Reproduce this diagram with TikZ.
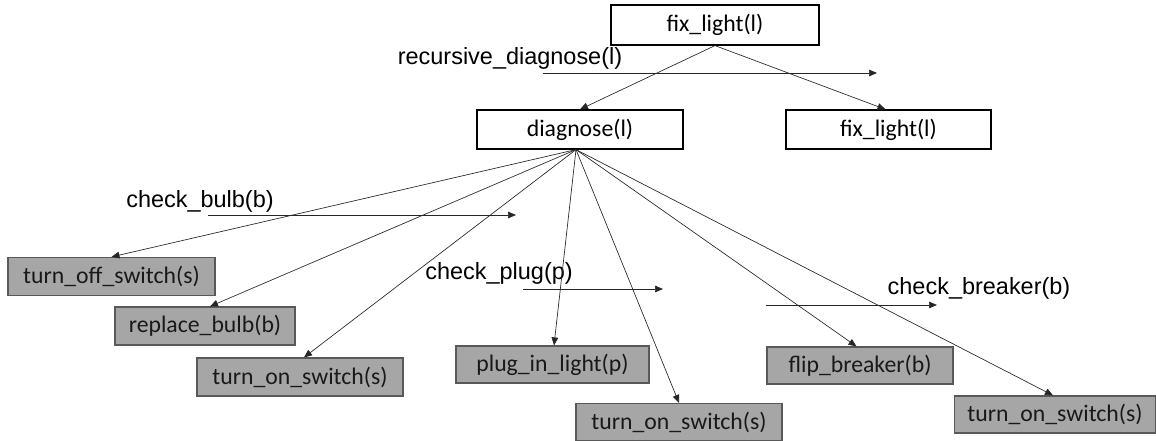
\documentclass[tikz,border=0pt]{standalone}
\usepackage{fontspec}
\setmainfont{Carlito}
\newfontfamily\lblfont{Liberation Sans}
\usetikzlibrary{arrows.meta}
\definecolor{boxgray}{HTML}{A6A6A6}
\definecolor{boxedge}{HTML}{595959}
\begin{document}
\begin{tikzpicture}[x=0.75pt,y=-0.75pt,
  wbox/.style={draw=black,fill=white,line width=0.9pt,inner sep=0pt,font=\fontsize{17.8pt}{20pt}\selectfont},
  gbox/.style={draw=boxedge,fill=boxgray,line width=0.9pt,inner sep=0pt,text=black!90,font=\fontsize{17.8pt}{20pt}\selectfont},
  lbl/.style={inner sep=0pt,font=\lblfont\fontsize{17.6pt}{20pt}\selectfont},
  conn/.style={draw=black!85,line width=0.5pt,-{Triangle[length=6pt,width=5pt]}}]
\useasboundingbox (0,0) rectangle (1156,441);
% nodes
\node[wbox,minimum width=208*0.75pt,minimum height=40*0.75pt] (top) at (715,25) {fix\_light(l)};
\node[wbox,minimum width=206*0.75pt,minimum height=39*0.75pt] (diag) at (580,129.5) {diagnose(l)};
\node[wbox,minimum width=205*0.75pt,minimum height=39*0.75pt] (fixr) at (888.5,129.5) {fix\_light(l)};
\node[gbox,minimum width=207*0.75pt,minimum height=38*0.75pt] (toff) at (111.5,276.5) {turn\_off\_switch(s)};
\node[gbox,minimum width=180*0.75pt,minimum height=38*0.75pt] (repl) at (205,326) {replace\_bulb(b)};
\node[gbox,minimum width=206*0.75pt,minimum height=38*0.75pt] (tona) at (300,377) {turn\_on\_switch(s)};
\node[gbox,minimum width=193*0.75pt,minimum height=37*0.75pt] (plug) at (552.5,364.5) {plug\_in\_light(p)};
\node[gbox,minimum width=206*0.75pt,minimum height=37*0.75pt] (tonb) at (679,422) {turn\_on\_switch(s)};
\node[gbox,minimum width=186*0.75pt,minimum height=37*0.75pt] (flip) at (860,365.5) {flip\_breaker(b)};
\node[gbox,minimum width=201*0.75pt,minimum height=37*0.75pt] (tonc) at (1055,414.5) {turn\_on\_switch(s)};
% labels
\node[lbl] (lrec) at (510,58) {recursive\_diagnose(l)};
\node[lbl] (lbulb) at (200,201) {check\_bulb(b)};
\node[lbl] (lplug) at (499,273) {check\_plug(p)};
\node[lbl] (lbrk) at (979,288) {check\_breaker(b)};
% label arrows
\coordinate (ra) at (543,73); \coordinate (rb) at (877,73);
\coordinate (ba) at (208,215); \coordinate (bb) at (516,215);
\coordinate (pa) at (523,289); \coordinate (pb) at (663,289);
\coordinate (ka) at (766,305); \coordinate (kb) at (937,305);
\draw[conn] (ra) -- (rb);
\draw[conn] (ba) -- (bb);
\draw[conn] (pa) -- (pb);
\draw[conn] (ka) -- (kb);
% tree connectors
\coordinate (src) at ([xshift=-4*0.75pt]diag.south);
\draw[conn] (top.south) -- (diag.north);
\draw[conn] (top.south) -- ([xshift=-3*0.75pt]fixr.north);
\draw[conn] (src) -- (toff.north);
\draw[conn] (src) -- ([xshift=5*0.75pt]repl.north);
\draw[conn] (src) -- ([xshift=4*0.75pt]tona.north);
\draw[conn] (src) -- ([xshift=1.5*0.75pt]plug.north);
\draw[conn] (src) -- (tonb.north);
\draw[conn] (src) -- ([xshift=-3.5*0.75pt]flip.north);
\draw[conn] (src) -- ([xshift=-2*0.75pt]tonc.north);
\end{tikzpicture}
\end{document}
